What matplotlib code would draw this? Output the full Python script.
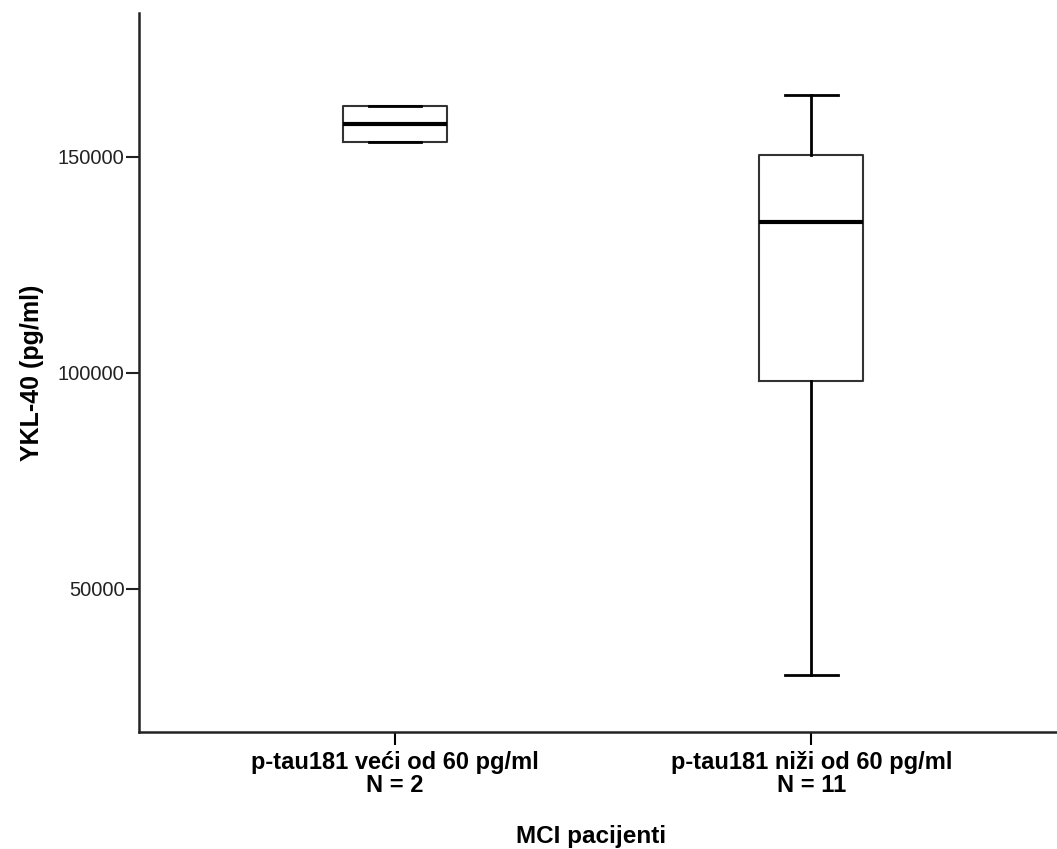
import matplotlib.pyplot as plt

plt.rcParams['font.family'] = ['Liberation Sans', 'DejaVu Sans']

groups = ['p-tau181 veći od 60 pg/ml', 'p-tau181 niži od 60 pg/ml']
counts = [2, 11]
whislo = [153500, 30100]
q1 = [153500, 98100]
med = [157600, 135000]
q3 = [161800, 150500]
whishi = [161800, 164300]

stats = []
for i in range(len(groups)):
    stats.append(dict(label='%s\nN = %d' % (groups[i], counts[i]),
                      whislo=whislo[i], q1=q1[i], med=med[i],
                      q3=q3[i], whishi=whishi[i], fliers=[]))

fig = plt.figure(figsize=(10.57, 8.49), dpi=100)
ax = fig.add_axes([0.1315, 0.1378, 0.8685, 0.847])

ax.bxp(stats, positions=[1, 2], widths=0.25, showfliers=False,
       boxprops=dict(color='#333333', linewidth=1.5),
       medianprops=dict(color='black', linewidth=3),
       whiskerprops=dict(color='black', linewidth=2),
       capprops=dict(color='black', linewidth=2),
       capwidths=0.127)

ax.set_xlim(0.385, 2.59)
ax.set_ylim(16900, 183300)
ax.set_yticks([50000, 100000, 150000])
ax.set_yticklabels(['50000', '100000', '150000'])

for s in ['top', 'right']:
    ax.spines[s].set_visible(False)
for s in ['left', 'bottom']:
    ax.spines[s].set_linewidth(1.8)
    ax.spines[s].set_color('#222222')

ax.tick_params(axis='y', length=9.5, width=1.5, labelsize=14.5, colors='#222222', pad=1)
ax.tick_params(axis='x', length=9, width=1.5, labelsize=17, pad=5)
for t in ax.get_xticklabels():
    t.set_fontweight('bold')
    t.set_linespacing(0.97)

ax.set_ylabel('YKL-40 (pg/ml)', fontsize=18, fontweight='bold', labelpad=10)
ax.set_xlabel('MCI pacijenti', fontsize=17.5, fontweight='bold', labelpad=16)
ax.xaxis.set_label_coords(0.492, -0.13)

fig.savefig('out.png', dpi=100)
